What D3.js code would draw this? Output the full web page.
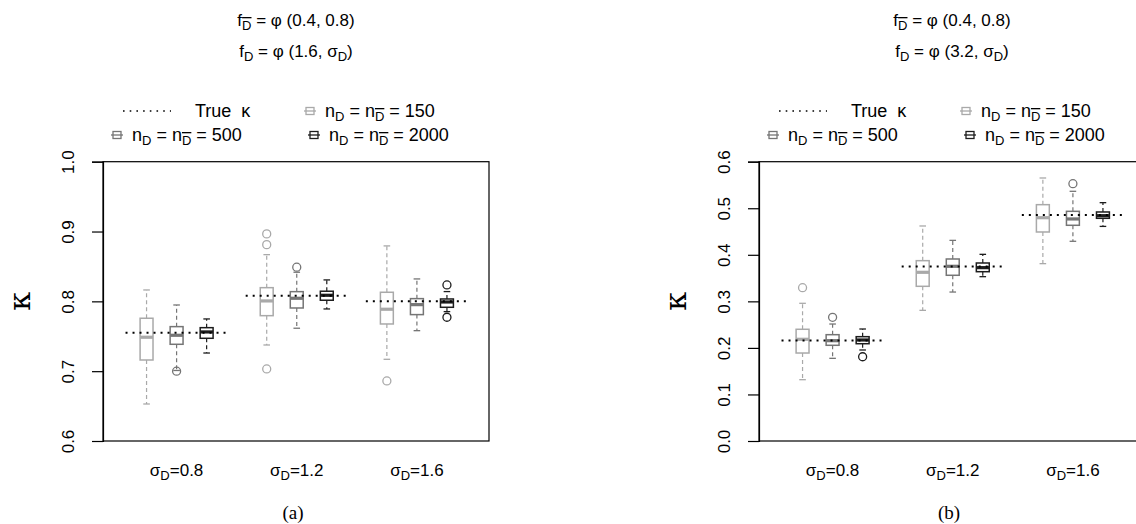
<!DOCTYPE html>
<html>
<head>
<meta charset="utf-8">
<script src="https://cdn.jsdelivr.net/npm/d3@7"></script>
<style>
  body { margin: 0; background: #fff; }
  text { font-family: "Liberation Sans", Arial, sans-serif; fill: #000; }
</style>
</head>
<body>
<svg width="1136" height="524"></svg>
<script>
// categories
var sigmaLevels = ["0.8", "1.2", "1.6"];
var sampleSizes = ["150", "500", "2000"];
var sizeColors = ["#a9a9a9", "#757575", "#1c1c1c"];

// panel (a): mu_D = 1.6
var trueKappaA = [0.755, 0.808, 0.800];
// [lower whisker, q1, median, q3, upper whisker], order: sigma x sample size
var statsA = [
  [0.653, 0.716, 0.7486, 0.7758, 0.8163], [0.701, 0.7385, 0.7514, 0.7638, 0.7948], [0.726, 0.7471, 0.7562, 0.7623, 0.7748],
  [0.7375, 0.7795, 0.8006, 0.8196, 0.8669], [0.7615, 0.7905, 0.8044, 0.8139, 0.8417], [0.7891, 0.8016, 0.8087, 0.8145, 0.8307],
  [0.717, 0.7676, 0.7887, 0.813, 0.8794], [0.758, 0.781, 0.7953, 0.8039, 0.8321], [0.7853, 0.7915, 0.7991, 0.8034, 0.814]
];
var outliersA = [[], [0.700], [], [0.8966, 0.8812, 0.7032], [0.8489], [], [0.686], [], [0.8235, 0.7772]];
var ticksA = [0.6, 0.7, 0.8, 0.9, 1.0];

// panel (b): mu_D = 3.2
var trueKappaB = [0.216, 0.375, 0.4855];
var statsB = [
  [0.1317, 0.189, 0.2185, 0.240, 0.2958], [0.1776, 0.2056, 0.2155, 0.2284, 0.2513], [0.1955, 0.209, 0.217, 0.2241, 0.2406],
  [0.2807, 0.3323, 0.3624, 0.3874, 0.4619], [0.32, 0.356, 0.3753, 0.391, 0.431], [0.353, 0.3637, 0.3724, 0.3824, 0.401],
  [0.381, 0.449, 0.4797, 0.5077, 0.565], [0.429, 0.4634, 0.477, 0.4934, 0.5364], [0.461, 0.4784, 0.484, 0.492, 0.512]
];
var outliersB = [[0.3293], [0.2657], [0.181], [], [], [], [], [0.5527], []];
var ticksB = [0.0, 0.1, 0.2, 0.3, 0.4, 0.5, 0.6];

var svg = d3.select("svg");

// text made of pieces, some of them subscripts (optionally barred)
function richText(sel, parts, size) {
  var t = sel.append("text").attr("font-size", size).style("white-space", "pre");
  var shift = Math.round(size * 0.24), subSize = Math.round(size * 0.74), back = 0;
  parts.forEach(function(p) {
    if (typeof p === "string") {
      t.append("tspan").attr("font-size", size).attr("dy", back || null).text(p);
      back = 0;
    } else {
      var s = t.append("tspan").attr("dy", shift + back).attr("font-size", subSize).text(p.sub);
      if (p.bar) s.style("text-decoration", "overline");
      back = -shift;
    }
  });
  return t;
}

function panel(opt) {
  var left = opt.left, right = left + 386, top = 161.7, bottom = 441;
  var g = svg.append("g");

  var x = d3.scaleLinear().domain([-0.45, 12.4]).range([left, right]);
  var y = d3.scaleLinear().domain(opt.domain).range([bottom, top]);
  var bw = 0.43, cw = 0.22;

  // titles
  richText(g, ["f", {sub: "D", bar: true}, " = \u03c6 (0.4, 0.8)"], 17)
    .attr("x", (left + right) / 2).attr("y", 26).attr("text-anchor", "middle");
  richText(g, ["f", {sub: "D"}, " = \u03c6 (" + opt.mu + ", \u03c3", {sub: "D"}, ")"], 17)
    .attr("x", (left + right) / 2).attr("y", 57).attr("text-anchor", "middle");

  // legend
  g.append("line").attr("x1", left + 20).attr("x2", left + 68).attr("y1", 111).attr("y2", 111)
    .attr("stroke", "#000").attr("stroke-width", 1.6).attr("stroke-dasharray", "1.6 5.1");
  g.append("text").attr("font-size", 18).style("white-space", "pre")
    .attr("x", left + 92).attr("y", 117).text("True  \u03ba");
  var legPos = [[left + 207, 111], [left + 14, 135], [left + 211, 135]];
  sampleSizes.forEach(function(n, i) {
    var lx = legPos[i][0], ly = legPos[i][1], c = sizeColors[i];
    var s = g.append("g").attr("stroke", c).attr("fill", "none");
    s.append("line").attr("x1", lx - 6).attr("x2", lx + 6).attr("y1", ly).attr("y2", ly).attr("stroke-width", 1.3);
    s.append("rect").attr("x", lx - 4).attr("y", ly - 3.5).attr("width", 8).attr("height", 7).attr("stroke-width", 1.3);
    richText(g, ["n", {sub: "D"}, " = n", {sub: "D", bar: true}, " = " + n], 18)
      .attr("x", lx + 15).attr("y", ly + 6);
  });

  // frame and y axis
  g.append("rect").attr("x", left).attr("y", top).attr("width", right - left).attr("height", bottom - top)
    .attr("fill", "none").attr("stroke", "#000").attr("stroke-width", 1.2);
  var ax = g.append("g").attr("transform", "translate(" + left + ",0)")
    .call(d3.axisLeft(y).tickValues(opt.ticks).tickSize(11).tickFormat(d3.format(".1f")));
  ax.attr("font-size", 17).attr("font-family", null);
  ax.select(".domain").attr("stroke-width", 1.2);
  ax.selectAll(".tick line").attr("stroke-width", 1.2);
  ax.selectAll(".tick text").attr("transform", "rotate(-90)").attr("x", 0).attr("y", -35)
    .attr("dy", "0.35em").attr("text-anchor", "middle").attr("font-size", 17);

  g.append("text").attr("transform", "translate(" + (left - 82) + "," + ((top + bottom) / 2) + ") rotate(-90)")
    .attr("text-anchor", "middle").attr("dy", "0.3em").attr("font-size", 30)
    .style("font-family", "'DejaVu Serif', serif").text("\u03ba");

  // boxes
  opt.stats.forEach(function(s, i) {
    var gi = Math.floor(i / 3), si = i % 3, pos = gi * 4 + si + 1, c = sizeColors[si];
    var b = g.append("g").attr("stroke", c).attr("fill", "none");
    b.append("line").attr("x1", x(pos)).attr("x2", x(pos)).attr("y1", y(s[3])).attr("y2", y(s[4]))
      .attr("stroke-width", 1.2).attr("stroke-dasharray", "4 3");
    b.append("line").attr("x1", x(pos)).attr("x2", x(pos)).attr("y1", y(s[1])).attr("y2", y(s[0]))
      .attr("stroke-width", 1.2).attr("stroke-dasharray", "4 3");
    [s[0], s[4]].forEach(function(v) {
      b.append("line").attr("x1", x(pos - cw / 2)).attr("x2", x(pos + cw / 2)).attr("y1", y(v)).attr("y2", y(v))
        .attr("stroke-width", 1.3);
    });
    b.append("rect").attr("x", x(pos - bw / 2)).attr("y", y(s[3]))
      .attr("width", x(pos + bw / 2) - x(pos - bw / 2)).attr("height", y(s[1]) - y(s[3]))
      .attr("fill", "#fff").attr("stroke-width", 1.5);
    b.append("line").attr("x1", x(pos - bw / 2)).attr("x2", x(pos + bw / 2)).attr("y1", y(s[2])).attr("y2", y(s[2]))
      .attr("stroke-width", 3.2);
    opt.outliers[i].forEach(function(v) {
      b.append("circle").attr("cx", x(pos)).attr("cy", y(v)).attr("r", 4).attr("stroke-width", 1.3);
    });
  });

  // true kappa
  opt.truth.forEach(function(k, gi) {
    g.append("line").attr("x1", x(gi * 4 + 0.3)).attr("x2", x(gi * 4 + 3.7)).attr("y1", y(k)).attr("y2", y(k))
      .attr("stroke", "#000").attr("stroke-width", 2).attr("stroke-dasharray", "2 5");
  });

  // group labels
  sigmaLevels.forEach(function(sg, gi) {
    richText(g, ["\u03c3", {sub: "D"}, "=" + sg], 17)
      .attr("x", x(gi * 4 + 2)).attr("y", 476).attr("text-anchor", "middle");
  });

  g.append("text").attr("x", (left + right) / 2 - 3).attr("y", 519).attr("text-anchor", "middle")
    .attr("font-size", 19).style("font-family", "'Liberation Serif', serif").text(opt.caption);
}

panel({left: 103, domain: [0.6, 1.0], ticks: ticksA, stats: statsA, outliers: outliersA, truth: trueKappaA, mu: "1.6", caption: "(a)"});
panel({left: 759, domain: [0.0, 0.6], ticks: ticksB, stats: statsB, outliers: outliersB, truth: trueKappaB, mu: "3.2", caption: "(b)"});
</script>
</body>
</html>
